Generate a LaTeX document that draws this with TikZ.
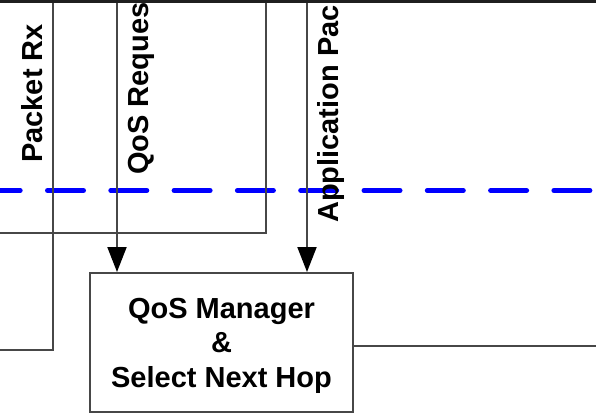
\documentclass[tikz,border=0pt]{standalone}
\usepackage{fontspec}
\setmainfont{Liberation Sans}
\usetikzlibrary{arrows.meta}

\begin{document}
\begin{tikzpicture}[x=1pt,y=1pt,
  wire/.style={draw=black!72,line width=2pt},
  arr/.style={wire,-{Triangle[length=25pt,width=19pt,fill=black,color=black]}},
  lbl/.style={font=\fontsize{29}{34.5}\selectfont\bfseries,inner sep=0pt,
              rotate=90,anchor=base west},
  procbox/.style={draw=black!72,line width=2pt,fill=white,inner sep=0pt,
                  minimum width=263pt,minimum height=139pt,align=center,
                  text depth=0pt,
                  font=\fontsize{29}{34.5}\selectfont\bfseries},
  boundary/.style={draw=blue,line width=5pt,line cap=round,
                   dash pattern=on 36pt off 27.3pt}]
\useasboundingbox (0,0) rectangle (596,416);

% layer boundary
\coordinate (bL) at (-15.8,225.5);
\coordinate (bR) at (620,225.5);
\draw[boundary] (bL) -- (bR);

% process block
\node[procbox] (qos) at (221.5,73.5) {QoS Manager\\\&\\Select Next Hop};

% free ends of the connectors
\coordinate (rxTop)  at (53,416);
\coordinate (rxOut)  at (0,66);
\coordinate (fbIn)   at (0,183);
\coordinate (fbTop)  at (266,416);
\coordinate (reqTop) at (117,416);
\coordinate (appTop) at (307,416);
\coordinate (nhOut)  at (596,70);

% connectors
\draw[wire] (rxTop) |- (rxOut);
\draw[wire] (fbIn) -| (fbTop);
\draw[arr] (reqTop) -- (reqTop |- qos.north);
\draw[arr] (appTop) -- (appTop |- qos.north);
\draw[wire] (qos.east |- nhOut) -- (nhOut);

% signal labels
\node[lbl] (rxLbl)  at (42,253)  {Packet Rx};
\node[lbl] (reqLbl) at (148,241) {QoS Reques};
\node[lbl] (appLbl) at (338,193) {Application Pac};

% upper block edge
\coordinate (topL) at (-5,414.5);
\coordinate (topR) at (601,414.5);
\draw[black!88,line width=3.5pt] (topL) -- (topR);
\end{tikzpicture}
\end{document}
